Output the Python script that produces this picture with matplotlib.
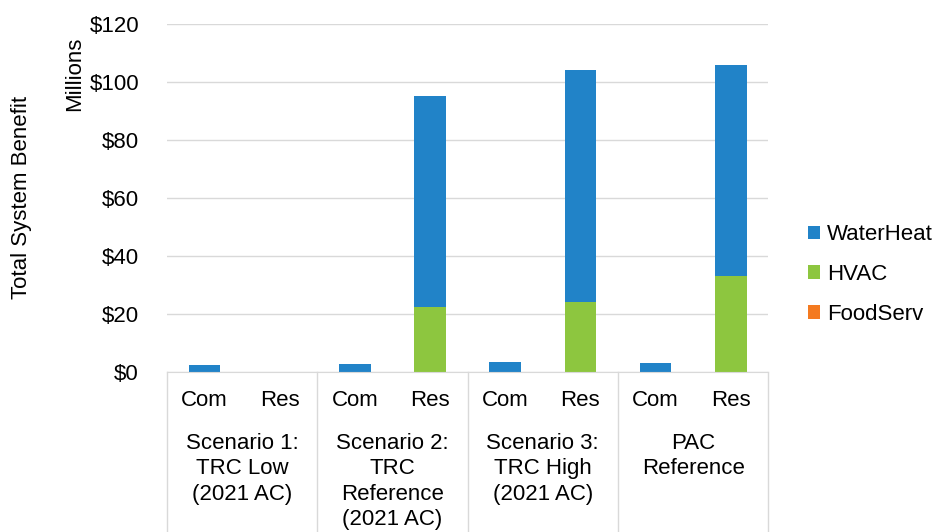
import numpy as np
import matplotlib.pyplot as plt
import matplotlib.transforms as mtransforms

plt.rcParams['font.family'] = ['Liberation Sans', 'DejaVu Sans']

groups = ["Scenario 1:\nTRC Low\n(2021 AC)", "Scenario 2:\nTRC\nReference\n(2021 AC)",
          "Scenario 3:\nTRC High\n(2021 AC)", "PAC\nReference"]
sectors = ["Com", "Res"]
# values in $ millions, order: (g1 Com, g1 Res, g2 Com, g2 Res, ...)
waterheat = np.array([2.4, 0.0, 2.8, 72.8, 3.3, 80.0, 3.2, 72.8])
hvac = np.array([0.0, 0.0, 0.0, 22.4, 0.0, 24.1, 0.0, 33.1])
foodserv = np.array([0.0, 0.0, 0.0, 0.0, 0.0, 0.0, 0.0, 0.0])

c_wh = '#2183c8'
c_hv = '#8dc63f'
c_fs = '#f47a20'

fig = plt.figure(figsize=(9.37, 5.32), dpi=100)
ax = fig.add_axes([0.178, 0.3008, 0.642, 0.6541])
fs = 16

x = np.arange(len(waterheat))
w = 0.42
ax.bar(x, foodserv, w, color=c_fs, label='FoodServ')
ax.bar(x, hvac, w, bottom=foodserv, color=c_hv, label='HVAC')
ax.bar(x, waterheat, w, bottom=foodserv + hvac, color=c_wh, label='WaterHeat')

ax.set_xlim(-0.5, len(x) - 0.5)
ax.set_ylim(0, 120)
ax.set_yticks(np.arange(0, 121, 20))
ax.set_yticklabels(['${}'.format(v) for v in range(0, 121, 20)], fontsize=fs)
ax.yaxis.grid(True, color='#d9d9d9', linewidth=1)
ax.set_axisbelow(True)
for s in ['top', 'right', 'left']:
    ax.spines[s].set_visible(False)
ax.spines['bottom'].set_color('#d9d9d9')
ax.tick_params(axis='y', length=0, pad=20)
ax.tick_params(axis='x', length=0)
ax.set_xticks([])

trans = mtransforms.blended_transform_factory(ax.transData, fig.transFigure)
for i in range(len(x)):
    ax.text(i, (532 - 401) / 532, sectors[i % 2], transform=trans, ha='center', va='center', fontsize=fs)
for g in range(len(groups)):
    ax.text(2 * g + 0.5, (532 - 433) / 532, groups[g], transform=trans, ha='center', va='top',
            fontsize=fs, linespacing=1.27)
for b in range(len(groups) + 1):
    ax.plot([2 * b - 0.5, 2 * b - 0.5], [0, -0.3008 / 0.6541 * 120], transform=ax.transData,
            color='#d9d9d9', linewidth=1, clip_on=False)

fig.text(22 / 937, (532 - 197) / 532, 'Total System Benefit', rotation=90, ha='center', va='center', fontsize=fs)
fig.text(75 / 937, (532 - 74) / 532, 'Millions', rotation=90, ha='center', va='center', fontsize=fs)

h, l = ax.get_legend_handles_labels()
ax.legend(h[::-1], l[::-1], loc='center left', bbox_to_anchor=(0.8625, 0.484), bbox_transform=fig.transFigure,
          frameon=False, fontsize=fs, handlelength=0.55, handleheight=0.55, handletextpad=0.3, labelspacing=0.85,
          borderpad=0, borderaxespad=0)

fig.savefig('out.png', dpi=100)
